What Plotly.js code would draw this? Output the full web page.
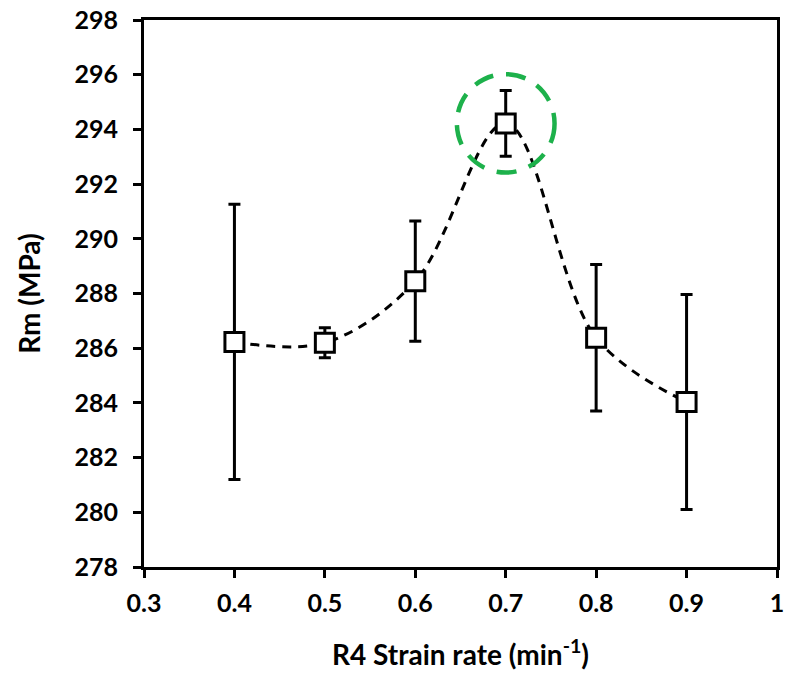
<!DOCTYPE html>
<html>
<head>
<meta charset="utf-8">
<script src="https://cdn.plot.ly/plotly-3.0.1.min.js"></script>
<style>html,body{margin:0;padding:0;background:#fff;}#chart{width:787px;height:675px;}</style>
</head>
<body>
<div id="chart"></div>
<script>
const strainRate = [0.4, 0.5, 0.6, 0.7, 0.8, 0.9];
const rm = [286.23, 286.2, 288.45, 294.22, 286.38, 284.03];
const rmErr = [5.03, 0.55, 2.2, 1.2, 2.68, 3.93];
const xTicks = [0.3, 0.4, 0.5, 0.6, 0.7, 0.8, 0.9, 1];
const xTickText = ['0.3', '0.4', '0.5', '0.6', '0.7', '0.8', '0.9', '1'];
const yTicks = [278, 280, 282, 284, 286, 288, 290, 292, 294, 296, 298];

const fontFam = 'Lato, "Open Sans", sans-serif';

// highlight the peak value
const peakIdx = rm.indexOf(Math.max(...rm));
const rx = 0.054, ry = 1.8;

const trace = {
  x: strainRate, y: rm, type: 'scatter', mode: 'lines+markers',
  line: {shape: 'spline', smoothing: 1, color: '#000', width: 3, dash: '9px,7px'},
  marker: {symbol: 'square', size: 19, color: '#fff', line: {color: '#000', width: 3}},
  error_y: {type: 'data', array: rmErr, visible: true, color: '#000', thickness: 3, width: 6},
  showlegend: false, hoverinfo: 'skip'
};

const layout = {
  width: 787, height: 675,
  margin: {l: 144, r: 10, t: 20, b: 108},
  paper_bgcolor: '#fff', plot_bgcolor: '#fff',
  font: {family: fontFam, color: '#000', size: 25},
  xaxis: {
    range: [0.3, 1], tickvals: xTicks, ticktext: xTickText,
    showgrid: false, zeroline: false,
    showline: true, linecolor: '#000', linewidth: 3, mirror: true,
    ticks: 'outside', ticklen: 8, tickwidth: 3, tickcolor: '#000',
    tickfont: {family: fontFam, size: 25, weight: 'bold'},
    ticklabelstandoff: 4,
    title: {text: 'R4 Strain rate (min<sup>-1</sup>)', font: {family: fontFam, size: 28, weight: 'bold'}, standoff: 30}
  },
  yaxis: {
    range: [278, 298], tickvals: yTicks,
    showgrid: false, zeroline: false,
    showline: true, linecolor: '#000', linewidth: 3, mirror: true,
    ticks: 'outside', ticklen: 8, tickwidth: 3, tickcolor: '#000',
    tickfont: {family: fontFam, size: 25, weight: 'bold'},
    ticklabelstandoff: 10,
    title: {text: 'Rm (MPa)', font: {family: fontFam, size: 28, weight: 'bold'}, standoff: 26}
  },
  shapes: [{
    type: 'circle', xref: 'x', yref: 'y',
    x0: strainRate[peakIdx] - rx, x1: strainRate[peakIdx] + rx,
    y0: rm[peakIdx] - ry, y1: rm[peakIdx] + ry,
    line: {color: '#1db14b', width: 4.5, dash: '20px,13px'},
    fillcolor: 'rgba(0,0,0,0)'
  }]
};

Plotly.newPlot('chart', [trace], layout, {displayModeBar: false, staticPlot: true});
</script>
</body>
</html>
